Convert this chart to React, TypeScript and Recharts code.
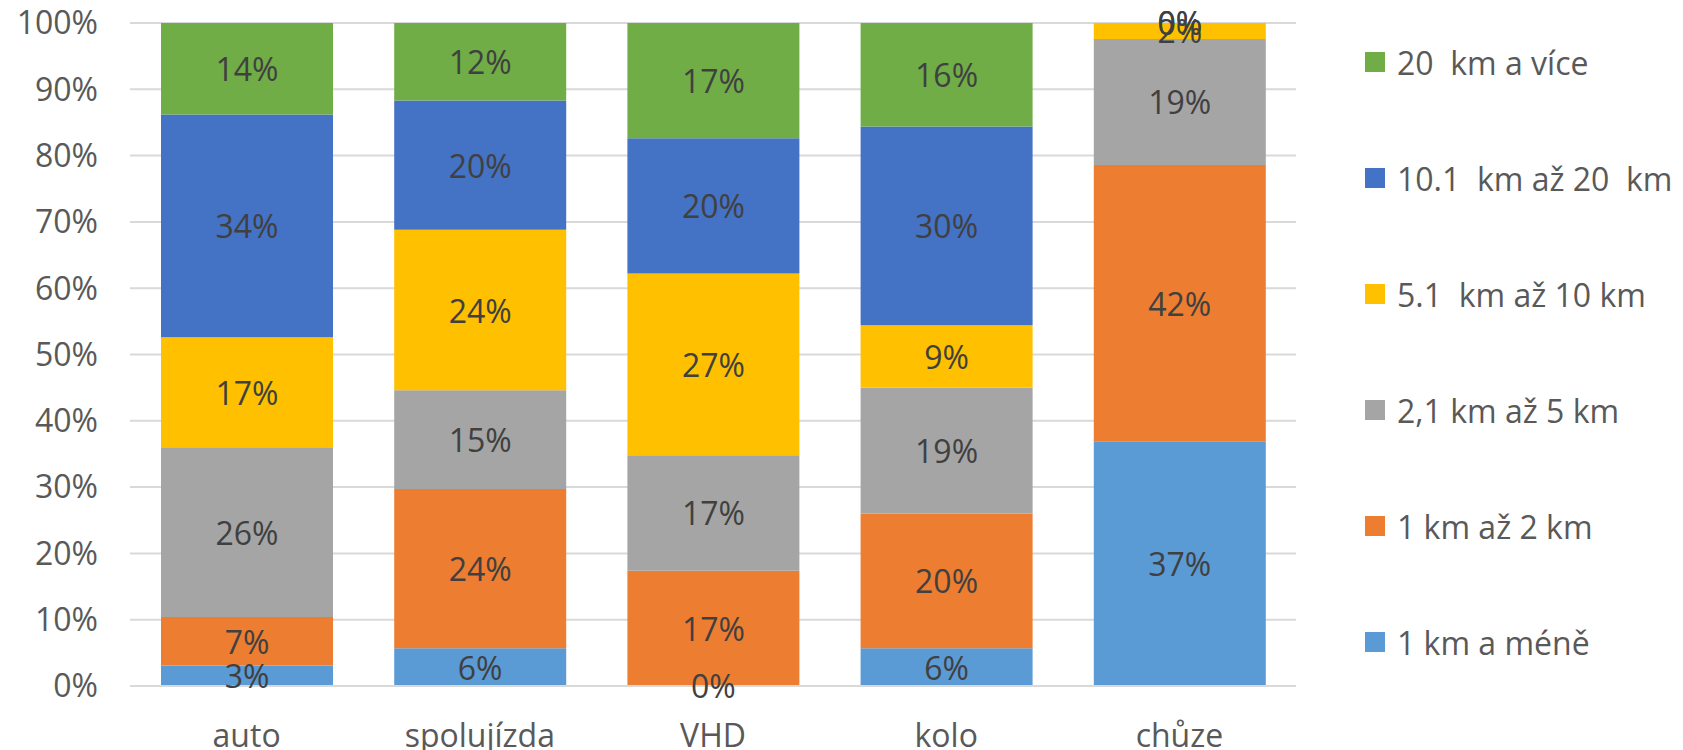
import React from 'react';
import { BarChart, Bar, XAxis, YAxis, CartesianGrid } from 'recharts';

const categories = ['auto', 'spolujízda', 'VHD', 'kolo', 'chůze'];
const seriesNames = [
  '1 km a méně',
  '1 km až 2 km',
  '2,1 km až 5 km',
  '5.1  km až 10 km',
  '10.1  km až 20  km',
  '20  km a více',
];
const seriesColors = ['#5B9BD5', '#ED7D31', '#A5A5A5', '#FFC000', '#4472C4', '#70AD47'];

const s1 = [3.1, 5.7, 0, 5.7, 36.9];
const s2 = [7.3, 24.0, 17.4, 20.3, 41.7];
const s3 = [25.6, 14.9, 17.4, 19.0, 19.0];
const s4 = [16.6, 24.2, 27.4, 9.4, 2.4];
const s5 = [33.6, 19.5, 20.4, 30.0, 0];
const s6 = [13.8, 11.7, 17.4, 15.6, 0];
const seriesValues = [s1, s2, s3, s4, s5, s6];

const yTicks = [0, 10, 20, 30, 40, 50, 60, 70, 80, 90, 100];

const data = categories.map((c, i) => {
  const row: Record<string, string | number> = { name: c };
  seriesValues.forEach((vals, k) => {
    row['s' + k] = vals[i];
  });
  return row;
});

const FONT = '"Open Sans", sans-serif';
const FS = 32;

const makeLabel = (k: number) => (props: any) => {
  const { x, y, width, height, index } = props;
  const v = seriesValues[k][index];
  const cx = Number(x) + Number(width) / 2;
  const cy = Number(y) + Number(height) / 2;
  return (
    <text
      key={`lbl-${k}-${index}`}
      x={cx}
      y={cy}
      textAnchor="middle"
      dominantBaseline="central"
      fill="#404040"
      fontFamily={FONT}
      fontSize={FS}
    >
      {Math.round(Number(v))}%
    </text>
  );
};

export default function App() {
  return (
    <div style={{ position: 'absolute', left: 0, top: 0, width: 1683, height: 750, background: '#fff' }}>
      <BarChart
        width={1683}
        height={750}
        data={data}
        margin={{ top: 23, right: 387, bottom: 0, left: 0 }}
      >
        <CartesianGrid vertical={false} stroke="#D9D9D9" strokeWidth={2} />
        <XAxis
          dataKey="name"
          axisLine={{ stroke: '#D9D9D9', strokeWidth: 2 }}
          tickLine={false}
          height={64}
          tickMargin={32}
          tick={{ fill: '#595959', fontSize: FS, fontFamily: FONT }}
          interval={0}
        />
        <YAxis
          width={130}
          domain={[0, 100]}
          ticks={yTicks}
          interval={0}
          axisLine={false}
          tickLine={false}
          tickMargin={26}
          tickFormatter={(v: number) => `${v}%`}
          tick={{ fill: '#595959', fontSize: FS, fontFamily: FONT }}
        />
        {seriesNames.map((n, k) => (
          <Bar
            key={n}
            dataKey={'s' + k}
            name={n}
            stackId="a"
            fill={seriesColors[k]}
            barSize={172}
            minPointSize={0.01}
            isAnimationActive={false}
            label={makeLabel(k)}
          />
        ))}
      </BarChart>
      {seriesNames
        .map((n, k) => ({ n, k }))
        .reverse()
        .map(({ n, k }, i) => (
          <div
            key={n}
            style={{
              position: 'absolute',
              left: 1365,
              top: 62 + i * 116 - 20,
              height: 40,
              display: 'flex',
              alignItems: 'center',
              fontFamily: FONT,
              fontSize: FS,
              color: '#595959',
              whiteSpace: 'pre',
            }}
          >
            <span style={{ display: 'inline-block', width: 20, height: 20, background: seriesColors[k], marginRight: 12 }} />
            <span>{n}</span>
          </div>
        ))}
    </div>
  );
}
